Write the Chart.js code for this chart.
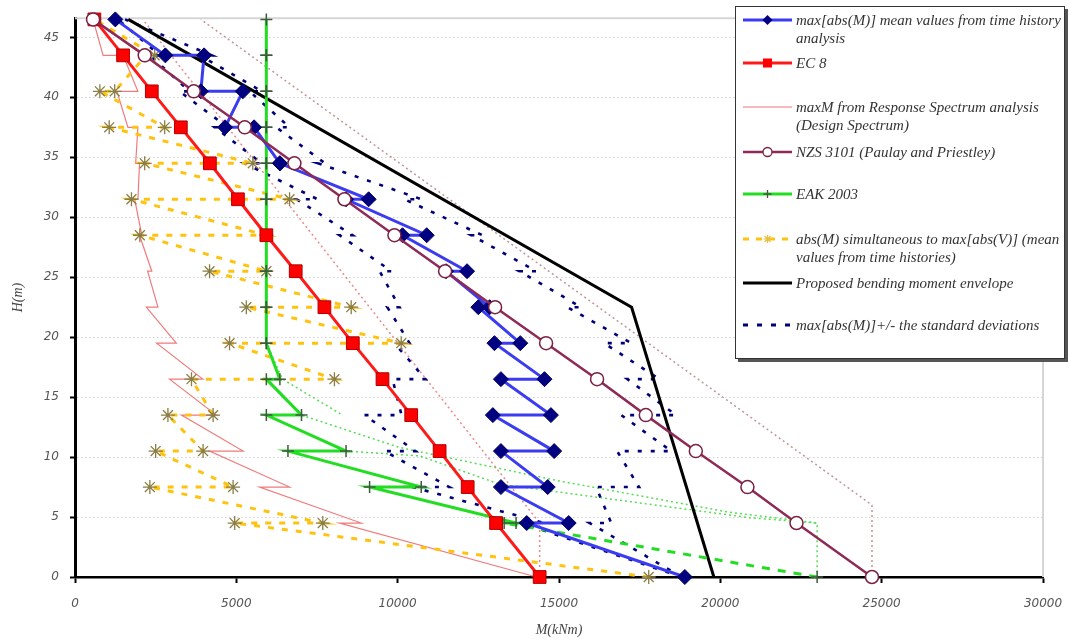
<!DOCTYPE html>
<html>
<head>
<meta charset="utf-8">
<script src="https://cdn.jsdelivr.net/npm/chart.js@4.4.1/dist/chart.umd.min.js"></script>
<style>
  body { margin: 0; background: #fff; }
  #quadro { position: relative; width: 1069px; height: 639px; }
  #legenda {
    position: absolute; left: 735px; top: 6px; width: 328px; height: 351px;
    border: 1px solid #333; background: #fff; box-shadow: 3px 3px 0 #555;
    font: italic 15px "Liberation Serif", serif; color: #333;
  }
  .item svg { position: absolute; left: 7px; }
  .item span { position: absolute; left: 60px; white-space: nowrap; line-height: 18px; }
</style>
</head>
<body>
<div id="quadro">
  <canvas id="grafico" width="1069" height="639"></canvas>
  <div id="legenda"></div>
</div>
<script>
// niveis dos pisos (m)
const niveis = [4.5, 7.5, 10.5, 13.5, 16.5, 19.5, 22.5, 25.5, 28.5, 31.5, 34.5, 37.5, 40.5, 43.5];
const alturas = [0, 4.5, 7.5, 10.5, 13.5, 16.5, 19.5, 22.5, 25.5, 28.5, 31.5, 34.5, 37.5, 40.5, 43.5, 46.5];
const ticksH = [0, 5, 10, 15, 20, 25, 30, 35, 40, 45];

// max[abs(M)] medias (azul) - dois valores por nivel
const mediaBase = 18900, mediaTopo = 1250;
const mediaA = [14000, 13200, 13200, 12950, 13200, 13000, 12500, 11500, 10150, 8400, 6350, 5550, 5200, 4000];
const mediaB = [15300, 14650, 14850, 14750, 14550, 13800, 12850, 12150, 10900, 9100, 6350, 4650, 3900, 2800];

// EC 8 e NZS 3101 (um valor por altura)
const ec8 = [14400, 13050, 12170, 11300, 10420, 9530, 8610, 7730, 6840, 5930, 5050, 4180, 3280, 2380, 1490, 600];
const nzs = [24700, 22360, 20840, 19240, 17690, 16180, 14600, 13020, 11470, 9900, 8350, 6800, 5260, 3680, 2160, 560];

// maxM espectro de resposta
const espectroBase = 14300, espectroTopo = 560;
const espectroA = [8200, 5720, 4170, 3300, 2930, 2530, 2210, 2250, 2000, 1850, 2000, 1950, 1300, 1490];
const espectroB = [8870, 6650, 5210, 4380, 3960, 3140, 2570, 2380, 2070, 1950, 1880, 1640, 1950, 870];

// EAK 2003
const eakBase = 23000, eakTopo = 5930;
const eakA = [13300, 9130, 6600, 5930, 5930, 5930, 5930, 5930, 5930, 5930, 5930, 5930, 5930, 5930];
const eakB = [13670, 10730, 8400, 7020, 6350, 5930, 5930, 5930, 5930, 5930, 5930, 5930, 5930, 5930];

// abs(M) simultaneo a max[abs(V)]
const simBase = 17780, simTopo = 600;
const simA = [4950, 2320, 2500, 2880, 3610, 4790, 5310, 4170, 2010, 1750, 2160, 1060, 770, 2200];
const simB = [7680, 4900, 3970, 4280, 8040, 10110, 8560, 5930, 5930, 6650, 5510, 2780, 1230, 2470];

// media +/- desvio padrao
const maisBase = 18800, maisTopo = 1550;
const maisA = [15950, 16150, 16800, 16930, 17120, 16400, 15260, 13770, 12280, 10210, 7530, 6240, 5410, 3870];
const maisB = [16620, 17480, 18480, 18630, 18110, 17240, 15690, 14300, 12630, 10740, 7750, 6650, 5790, 4240];
const menosBase = 18800, menosTopo = 1330;
const menosA = [13840, 10460, 9590, 8970, 9840, 9900, 9680, 9440, 8200, 6870, 5260, 4330, 3240, 2320];
const menosB = [14550, 11600, 10550, 10120, 10860, 10370, 10060, 9810, 8600, 7520, 5790, 4730, 3550, 2630];

// envoltoria proposta e linhas pontilhadas
const propostaH = [0, 22.5, 46.5];
const propostaM = [19800, 17250, 1650];
const envNzsH = [0, 6, 46.5];
const envNzsM = [24700, 24700, 3900];
const envEc8H = [0, 4.5, 46.5];
const envEc8M = [14400, 14400, 2100];
const verdeAH = [19.5, 16.5, 13.5];
const verdeAM = [5930, 6430, 8290];
const verdeBH = [13.5, 10.8, 8.0, 5.4, 4.5, 0];
const verdeBM = [7020, 10060, 15020, 20280, 23000, 23000];
const verdeCH = [10.5, 10.1, 7.75, 4.95, 4.5];
const verdeCM = [8400, 10680, 13150, 20890, 23000];

function zigue(base, a, b, topo) {
  const pts = [{ x: base, y: 0 }];
  niveis.forEach((h, i) => {
    pts.push({ x: a[i], y: h });
    pts.push({ x: b[i], y: h });
  });
  pts.push({ x: topo, y: 46.5 });
  return pts;
}

function pares(hs, ms) {
  return hs.map((h, i) => ({ x: ms[i], y: h }));
}

function linha(data, cor, largura, extra) {
  return Object.assign({
    data, showLine: true, borderColor: cor, borderWidth: largura,
    pointRadius: 0, clip: false, fill: false
  }, extra || {});
}

const datasets = [
  linha(pares(alturas, nzs), '#8e2a55', 2.5, {
    pointStyle: 'circle', pointRadius: 6.5, pointBackgroundColor: '#fff',
    pointBorderColor: '#7a2040', pointBorderWidth: 1.5
  }),
  linha(zigue(mediaBase, mediaA, mediaB, mediaTopo), '#3b3bf2', 3, {
    pointStyle: 'rectRot', pointRadius: 7.5, pointBackgroundColor: '#000080',
    pointBorderColor: '#000060', pointBorderWidth: 1
  }),
  linha(pares(alturas, ec8), '#ff1a1a', 3, {
    pointStyle: 'rect', pointRadius: 9, pointBackgroundColor: '#ff0000',
    pointBorderColor: '#b00000', pointBorderWidth: 1
  }),
  linha(zigue(eakBase, eakA, eakB, eakTopo), '#22dd22', 3, {
    pointStyle: 'cross', pointRadius: 6, pointBorderColor: '#3d5a3d', pointBorderWidth: 1.5,
    segment: { borderDash: ctx => ctx.p0DataIndex === 0 ? [8, 8] : undefined }
  }),
  linha(zigue(simBase, simA, simB, simTopo), '#ffc20e', 3, {
    borderDash: [6, 8], pointStyle: 'star', pointRadius: 7,
    pointBorderColor: '#8a7d45', pointBorderWidth: 1.3
  }),
  linha(pares(propostaH, propostaM), '#000000', 3),
  linha(zigue(maisBase, maisA, maisB, maisTopo), '#00007a', 2.6, { borderDash: [4, 9] }),
  linha(zigue(menosBase, menosA, menosB, menosTopo), '#00007a', 2.6, { borderDash: [4, 9] }),
  linha(zigue(espectroBase, espectroA, espectroB, espectroTopo), '#f07b7b', 1.2),
  linha(pares(envNzsH, envNzsM), '#c49494', 1.5, { borderDash: [2, 3] }),
  linha(pares(envEc8H, envEc8M), '#ea8a8a', 1.5, { borderDash: [2, 3] }),
  linha(pares(verdeAH, verdeAM), '#55dd55', 1.5, { borderDash: [2, 3] }),
  linha(pares(verdeBH, verdeBM), '#55dd55', 1.5, { borderDash: [2, 3] }),
  linha(pares(verdeCH, verdeCM), '#55dd55', 1.5, { borderDash: [2, 3] })
];

const moldura = {
  id: 'moldura',
  beforeDatasetsDraw(chart) {
    const { ctx, chartArea: a } = chart;
    ctx.save();
    ctx.strokeStyle = '#d6d6d6';
    ctx.lineWidth = 2;
    ctx.beginPath();
    ctx.moveTo(a.left, a.top);
    ctx.lineTo(a.right, a.top);
    ctx.lineTo(a.right, a.bottom);
    ctx.stroke();
    ctx.restore();
  }
};

const fonteTick = { family: '"DejaVu Sans", sans-serif', style: 'italic', size: 12 };
const fonteTitulo = { family: '"Liberation Serif", serif', style: 'italic', size: 14 };

new Chart(document.getElementById('grafico'), {
  type: 'scatter',
  data: { datasets },
  plugins: [moldura],
  options: {
    responsive: false,
    animation: false,
    events: [],
    layout: { padding: { left: 0, right: 26, top: 13, bottom: 0 } },
    plugins: { legend: { display: false }, tooltip: { enabled: false } },
    scales: {
      x: {
        type: 'linear', min: 0, max: 30000,
        afterFit: s => { s.height = 62; s.paddingLeft = 0; s.paddingRight = 0; },
        ticks: { stepSize: 5000, color: '#555', font: fonteTick, padding: 14, callback: v => String(v) },
        grid: { drawOnChartArea: false, tickLength: 6, tickColor: '#000', tickWidth: 2 },
        border: { color: '#000', width: 2.5 },
        title: { display: true, text: 'M(kNm)', color: '#444', font: fonteTitulo, padding: { top: 0, bottom: 0 } }
      },
      y: {
        type: 'linear', min: 0, max: 46.6,
        afterFit: s => { s.width = 75; },
        afterBuildTicks: s => { s.ticks = ticksH.map(v => ({ value: v })); },
        ticks: { color: '#555', font: fonteTick, padding: 11 },
        grid: { color: '#d0d0d0', lineWidth: 1, tickLength: 5, tickColor: '#000', tickWidth: 2, tickBorderDash: [] },
        border: { color: '#000', width: 3, dash: [1.5, 2.5] },
        title: { display: true, text: 'H(m)', color: '#444', font: fonteTitulo, padding: { top: 10, bottom: 0 } }
      }
    }
  }
});

// legenda
const legenda = [
  { linhas: ['max[abs(M)] mean values from time history', 'analysis'], y: 13, cor: '#3b3bf2', w: 3, m: 'losango' },
  { linhas: ['EC 8'], y: 56, cor: '#ff1a1a', w: 3, m: 'quadrado' },
  { linhas: ['maxM from Response Spectrum analysis', '(Design Spectrum)'], y: 100, cor: '#f4a0a8', w: 1.5 },
  { linhas: ['NZS 3101 (Paulay and Priestley)'], y: 145, cor: '#8e2a55', w: 2.5, m: 'circulo' },
  { linhas: ['EAK 2003'], y: 187, cor: '#22dd22', w: 3, m: 'cruz' },
  { linhas: ['abs(M) simultaneous to max[abs(V)] (mean', 'values from time histories)'], y: 232, cor: '#ffc20e', w: 3, tr: '6,7', m: 'estrela' },
  { linhas: ['Proposed bending moment envelope'], y: 276, cor: '#000', w: 3 },
  { linhas: ['max[abs(M)]+/- the standard deviations'], y: 318, cor: '#00007a', w: 3, tr: '5,9' }
];

function marcador(m) {
  if (m === 'losango') return '<polygon points="24.5,1 29.5,6 24.5,11 19.5,6" fill="#000080"/>';
  if (m === 'quadrado') return '<rect x="20" y="1.5" width="9" height="9" fill="#ff0000"/>';
  if (m === 'circulo') return '<circle cx="24.5" cy="6" r="4.5" fill="#fff" stroke="#7a2040" stroke-width="1.3"/>';
  if (m === 'cruz') return '<path d="M24.5 2 V10 M20.5 6 H28.5" stroke="#3d5a3d" stroke-width="1.3"/>';
  if (m === 'estrela') return '<path d="M24.5 2 V10 M20.5 6 H28.5 M21.5 3 L27.5 9 M27.5 3 L21.5 9" stroke="#e8c040" stroke-width="1.2"/>';
  return '';
}

const caixa = document.getElementById('legenda');
legenda.forEach(l => {
  const d = document.createElement('div');
  d.className = 'item';
  const tr = l.tr ? ` stroke-dasharray="${l.tr}"` : '';
  d.innerHTML = `<svg width="50" height="12" style="top:${l.y - 6}px">` +
    `<line x1="0" y1="6" x2="49" y2="6" stroke="${l.cor}" stroke-width="${l.w}"${tr}/>` +
    marcador(l.m) + '</svg>' +
    `<span style="top:${l.y - 9}px">${l.linhas.join('<br>')}</span>`;
  caixa.appendChild(d);
});
</script>
</body>
</html>
